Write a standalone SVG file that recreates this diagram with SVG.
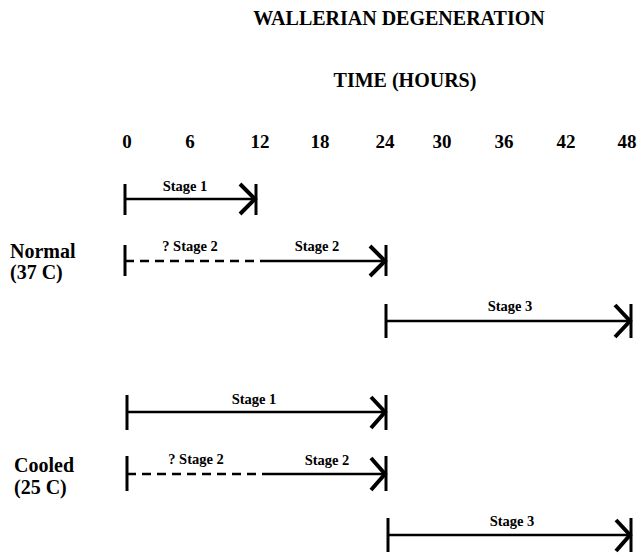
<svg xmlns="http://www.w3.org/2000/svg" width="637" height="555" viewBox="0 0 637 555">
<style>
text{font-family:"Liberation Serif","Times New Roman",serif;font-weight:bold;fill:#000}
.t{font-size:20px;text-anchor:middle}
.n{font-size:19px;text-anchor:middle}
.s{font-size:14.5px;text-anchor:middle}
.lab{font-size:20px}
.ln{stroke:#000;stroke-width:2.5;fill:none}
.bar{stroke:#000;stroke-width:3;fill:none}
.head{stroke:#000;stroke-width:4;fill:none}
.dash{stroke:#000;stroke-width:2.5;fill:none;stroke-dasharray:9,6}
</style>
<rect width="637" height="555" fill="#fff"/>
<g id="titles">
<text class="t" x="399" y="25">WALLERIAN DEGENERATION</text>
<text class="t" x="405" y="87">TIME (HOURS)</text>
</g>
<g id="axis">
<text class="n" x="127" y="148">0</text>
<text class="n" x="190" y="148">6</text>
<text class="n" x="260" y="148">12</text>
<text class="n" x="320" y="148">18</text>
<text class="n" x="385" y="148">24</text>
<text class="n" x="442" y="148">30</text>
<text class="n" x="504" y="148">36</text>
<text class="n" x="566" y="148">42</text>
<text class="n" x="627" y="148">48</text>
</g>
<g id="row-labels">
<text class="lab" x="10" y="258">Normal</text>
<text class="lab" x="10" y="279">(37 C)</text>
<text class="lab" x="14" y="472">Cooled</text>
<text class="lab" x="14" y="494">(25 C)</text>
</g>
<g id="connectors">
<g id="n-stage1">
<line class="bar" x1="125" y1="184" x2="125" y2="215"/>
<line class="ln" x1="125" y1="199" x2="256" y2="199"/>
<line class="bar" x1="256" y1="184" x2="256" y2="215"/>
<polyline class="head" points="240,184 255,199 240,214"/>
<text class="s" x="185" y="191">Stage 1</text>
</g>
<g id="n-stage2">
<line class="bar" x1="125" y1="245" x2="125" y2="276"/>
<line class="dash" x1="125" y1="261" x2="262" y2="261"/>
<line class="ln" x1="262" y1="261" x2="386" y2="261"/>
<line class="bar" x1="386" y1="245" x2="386" y2="276"/>
<polyline class="head" points="370,246 385,261 370,276"/>
<text class="s" x="190" y="251">? Stage 2</text>
<text class="s" x="317" y="251">Stage 2</text>
</g>
<g id="n-stage3">
<line class="bar" x1="386" y1="304" x2="386" y2="338"/>
<line class="ln" x1="386" y1="321" x2="631" y2="321"/>
<line class="bar" x1="631" y1="304" x2="631" y2="338"/>
<polyline class="head" points="615,305 630,321 615,337"/>
<text class="s" x="510" y="311">Stage 3</text>
</g>
<g id="c-stage1">
<line class="bar" x1="127" y1="395" x2="127" y2="430"/>
<line class="ln" x1="127" y1="412" x2="386" y2="412"/>
<line class="bar" x1="386" y1="395" x2="386" y2="430"/>
<polyline class="head" points="371,397 385,412 371,428"/>
<text class="s" x="254" y="404">Stage 1</text>
</g>
<g id="c-stage2">
<line class="bar" x1="127" y1="456" x2="127" y2="491"/>
<line class="dash" x1="127" y1="474" x2="263" y2="474"/>
<line class="ln" x1="263" y1="474" x2="386" y2="474"/>
<line class="bar" x1="386" y1="456" x2="386" y2="491"/>
<polyline class="head" points="371,458 385,474 371,490"/>
<text class="s" x="196" y="464">? Stage 2</text>
<text class="s" x="327" y="465">Stage 2</text>
</g>
<g id="c-stage3">
<line class="bar" x1="388" y1="518" x2="388" y2="552"/>
<line class="ln" x1="388" y1="535" x2="631" y2="535"/>
<line class="bar" x1="631" y1="518" x2="631" y2="552"/>
<polyline class="head" points="616,520 630,535 616,551"/>
<text class="s" x="512" y="526">Stage 3</text>
</g>
</g>
</svg>
